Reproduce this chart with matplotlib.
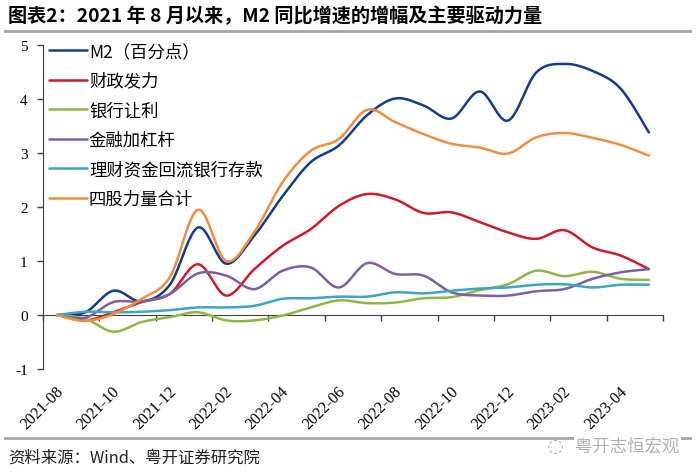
import numpy as np
import matplotlib
matplotlib.use('Agg')
import matplotlib.pyplot as plt
import matplotlib.transforms as mtransforms
from matplotlib.lines import Line2D

plt.rcParams['font.family'] = ['Noto Sans CJK SC', 'DejaVu Sans']

# months 2021-08 .. 2023-05
months = ['2021-08', '2021-09', '2021-10', '2021-11', '2021-12', '2022-01',
          '2022-02', '2022-03', '2022-04', '2022-05', '2022-06', '2022-07',
          '2022-08', '2022-09', '2022-10', '2022-11', '2022-12', '2023-01',
          '2023-02', '2023-03', '2023-04', '2023-05']

m2 = [0, 0.05, 0.45, 0.25, 0.56, 1.62, 0.95, 1.47, 2.2, 2.83, 3.14, 3.7,
      4.01, 3.88, 3.64, 4.14, 3.6, 4.49, 4.65, 4.52, 4.19, 3.38]
fiscal = [0, -0.1, 0.05, 0.24, 0.39, 0.94, 0.36, 0.85, 1.28, 1.59, 2.02, 2.24,
          2.14, 1.89, 1.9, 1.72, 1.53, 1.41, 1.57, 1.25, 1.1, 0.85]
bank = [0, -0.07, -0.31, -0.13, -0.04, 0.05, -0.1, -0.1, -0.01, 0.14, 0.27, 0.22,
        0.23, 0.31, 0.33, 0.46, 0.57, 0.82, 0.72, 0.8, 0.67, 0.65]
leverage = [0, -0.05, 0.24, 0.25, 0.39, 0.77, 0.73, 0.48, 0.82, 0.88, 0.51, 0.96,
            0.76, 0.73, 0.42, 0.36, 0.36, 0.44, 0.48, 0.67, 0.79, 0.85]
wealth = [0, 0.06, 0.05, 0.06, 0.09, 0.14, 0.14, 0.17, 0.3, 0.31, 0.34, 0.34,
          0.42, 0.4, 0.45, 0.49, 0.51, 0.56, 0.57, 0.51, 0.56, 0.56]
total = [0, -0.11, 0.02, 0.3, 0.7, 1.95, 1.0, 1.54, 2.46, 3.04, 3.26, 3.8,
         3.57, 3.35, 3.17, 3.1, 2.99, 3.29, 3.37, 3.28, 3.15, 2.95]

labels = ['M2（百分点）', '财政发力', '银行让利', '金融加杠杆', '理财资金回流银行存款', '四股力量合计']
colors = ['#143C8C', '#CC1B2B', '#8EB548', '#7D5FA0', '#3CA6C0', '#EE8E3E']


def smooth(y, n=24):
    # Excel-like smoothed line (cubic bezier through the points)
    pts = np.column_stack([np.arange(len(y)), np.asarray(y, float)])
    out = [pts[0]]
    t = np.linspace(0, 1, n)[1:, None]
    for i in range(len(pts) - 1):
        p0 = pts[max(i - 1, 0)]
        p1 = pts[i]
        p2 = pts[i + 1]
        p3 = pts[min(i + 2, len(pts) - 1)]
        c1 = p1 + (p2 - p0) / 6
        c2 = p2 - (p3 - p1) / 6
        seg = ((1 - t) ** 3) * p1 + 3 * ((1 - t) ** 2) * t * c1 + 3 * (1 - t) * t ** 2 * c2 + t ** 3 * p2
        out.extend(seg)
    out = np.array(out)
    return out[:, 0], out[:, 1]


fig = plt.figure(figsize=(7, 4.77), dpi=100)
ax = fig.add_axes([43 / 700, 1 - 370 / 477, 620 / 700, 324 / 477])

for vals, lab, col in zip([m2, fiscal, bank, leverage, wealth, total], labels, colors):
    xs, ys = smooth(vals)
    ax.plot(xs, ys, color=col, lw=1.8, label=lab, solid_capstyle='round')

ax.set_xlim(-0.5, len(months) - 0.5)
ax.set_ylim(-1, 5)
ax.set_yticks(range(-1, 6))
ax.set_yticklabels([str(v) for v in range(-1, 6)], family='Liberation Serif', fontsize=11)
ax.tick_params(axis='y', direction='out', length=4, width=1, color='#404040', pad=7)

ax.set_xticks(range(0, len(months), 2))
ax.set_xticklabels(months[::2], rotation=45, ha='right', va='top',
                   family='Liberation Serif', fontsize=11.5)
ax.tick_params(axis='x', length=0, pad=10)
shift = mtransforms.ScaledTranslation(7 / 72, 0, fig.dpi_scale_trans)
for lbl in ax.get_xticklabels():
    lbl.set_transform(lbl.get_transform() + shift)

for s in ['top', 'right', 'bottom']:
    ax.spines[s].set_visible(False)
ax.spines['left'].set_color('#404040')

# category axis line at y = 0 with ticks between categories
sec = ax.secondary_xaxis(0, transform=ax.transData)
sec.set_xticks(np.arange(-0.5, len(months), 2))
sec.tick_params(axis='x', direction='out', length=4, width=1, color='#404040', labelbottom=False)
for s in sec.spines.values():
    s.set_color('#404040')

leg = ax.legend(loc='upper left', bbox_to_anchor=(49 / 700, 1 - 43 / 477),
                bbox_transform=fig.transFigure, frameon=False, fontsize=12.5,
                handlelength=2.2, handletextpad=0.1, labelspacing=0.67,
                borderpad=0, borderaxespad=0)

fig.text(8 / 700, 1 - 16 / 477, '图表2：2021 年 8 月以来，M2 同比增速的增幅及主要驱动力量',
         fontsize=13.8, fontweight='bold', va='center', ha='left')
fig.add_artist(Line2D([5 / 700, 690 / 700], [1 - 32 / 477] * 2, color='#A6A6A6', lw=2))
fig.add_artist(Line2D([5 / 700, 690 / 700], [1 - 439 / 477] * 2, color='#A6A6A6', lw=2))
fig.text(8 / 700, 1 - 458 / 477, '资料来源：Wind、粤开证券研究院', fontsize=11.8,
         va='center', ha='left', color='#202020', style='italic')
fig.text(575 / 700, 1 - 446 / 477, '粤开志恒宏观', fontsize=12.5, va='center', ha='left',
         color='#B0B0B0', bbox=dict(facecolor='white', edgecolor='none', pad=1))
fig.text(555 / 700, 1 - 446 / 477, '◌', fontsize=14, va='center', ha='center',
         color='#B0B0B0', family=['DejaVu Sans'])

fig.savefig('out.png', dpi=100)
